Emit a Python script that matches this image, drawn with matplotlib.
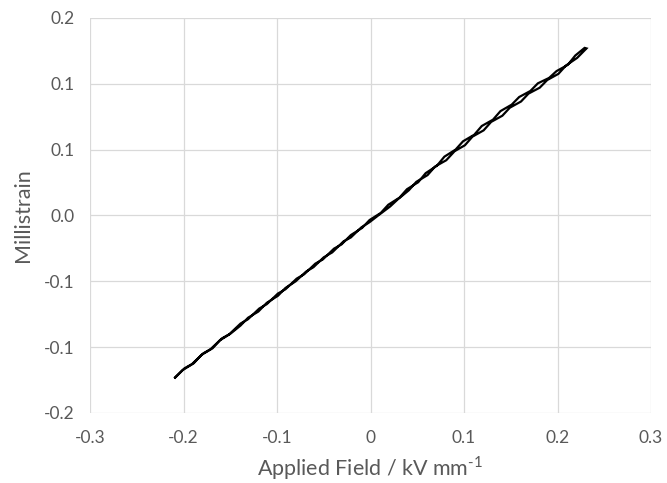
import matplotlib
matplotlib.use("Agg")
import matplotlib.pyplot as plt

plt.rcParams['font.family'] = ['Lato', 'DejaVu Sans']
plt.rcParams['mathtext.fontset'] = 'custom'
plt.rcParams['mathtext.rm'] = 'Lato'

# ascending branch
x_up = [-0.209, -0.201, -0.189, -0.181, -0.169, -0.161, -0.150, -0.139, -0.131, -0.120,
        -0.111, -0.099, -0.091, -0.080, -0.069, -0.061, -0.050, -0.041, -0.029, -0.021,
        -0.010, -0.001, 0.009, 0.021, 0.029, 0.041, 0.049, 0.061, 0.069, 0.081,
        0.090, 0.101, 0.109, 0.121, 0.129, 0.141, 0.149, 0.161, 0.169, 0.181,
        0.189, 0.201, 0.209, 0.221, 0.231]
y_up = [-0.1232, -0.1175, -0.1122, -0.1060, -0.1009, -0.0948, -0.0899, -0.0836, -0.0777, -0.0730,
        -0.0664, -0.0610, -0.0551, -0.0500, -0.0427, -0.0393, -0.0318, -0.0281, -0.0198, -0.0167,
        -0.0092, -0.0051, 0.0004, 0.0068, 0.0121, 0.0191, 0.0255, 0.0306, 0.0371, 0.0419,
        0.0488, 0.0533, 0.0598, 0.0646, 0.0710, 0.0757, 0.0818, 0.0865, 0.0925, 0.0970,
        0.1028, 0.1075, 0.1138, 0.1196, 0.1268]

# descending branch
x_down = [0.229, 0.219, 0.211, 0.199, 0.191, 0.179, 0.171, 0.159, 0.151, 0.139,
          0.131, 0.119, 0.111, 0.099, 0.091, 0.079, 0.071, 0.059, 0.051, 0.039,
          0.031, 0.019, 0.011, -0.001, -0.009, -0.021, -0.031, -0.039, -0.051, -0.059,
          -0.071, -0.079, -0.091, -0.099, -0.111, -0.119, -0.131, -0.139, -0.151, -0.159,
          -0.171, -0.179, -0.191, -0.199, -0.209]
y_down = [0.1272, 0.1214, 0.1143, 0.1096, 0.1044, 0.1003, 0.0945, 0.0899, 0.0841, 0.0792,
          0.0727, 0.0679, 0.0613, 0.0563, 0.0500, 0.0446, 0.0377, 0.0321, 0.0252, 0.0199,
          0.0135, 0.0081, 0.0019, -0.0035, -0.0095, -0.0149, -0.0220, -0.0252, -0.0334, -0.0366,
          -0.0447, -0.0480, -0.0561, -0.0593, -0.0674, -0.0707, -0.0788, -0.0821, -0.0902, -0.0934,
          -0.1015, -0.1048, -0.1129, -0.1161, -0.1230]

x_ticks = [-0.3, -0.2, -0.1, 0.0, 0.1, 0.2, 0.3]
x_tick_labels = ["-0.3", "-0.2", "-0.1", "0", "0.1", "0.2", "0.3"]
y_ticks = [-0.15, -0.10, -0.05, 0.0, 0.05, 0.10, 0.15]
y_tick_labels = ["-0.2", "-0.1", "-0.1", "0.0", "0.1", "0.1", "0.2"]

fig = plt.figure(figsize=(6.67, 4.83), dpi=100)
ax = fig.add_axes([0.135, 0.145, 0.841, 0.818])

ax.plot(x_up + x_down, y_up + y_down, color='black', lw=1.6, solid_joinstyle='miter')

ax.set_xlim(-0.3, 0.3)
ax.set_ylim(-0.15, 0.15)
ax.set_xticks(x_ticks)
ax.set_xticklabels(x_tick_labels)
ax.set_yticks(y_ticks)
ax.set_yticklabels(y_tick_labels)
ax.grid(True, color='#d9d9d9', lw=0.9)
ax.set_axisbelow(True)
for s in ax.spines.values():
    s.set_visible(False)
ax.tick_params(axis='x', length=0, labelsize=12.5, labelcolor='#595959', pad=12)
ax.tick_params(axis='y', length=0, labelsize=12.5, labelcolor='#595959', pad=11)

ax.set_xlabel('Applied Field / kV mm$^{\\mathregular{\u2010}1}$', fontsize=15.5, color='#595959', labelpad=6)
ax.set_ylabel('Millistrain', fontsize=15.5, color='#595959', labelpad=8)

fig.savefig('out.png', dpi=100)
